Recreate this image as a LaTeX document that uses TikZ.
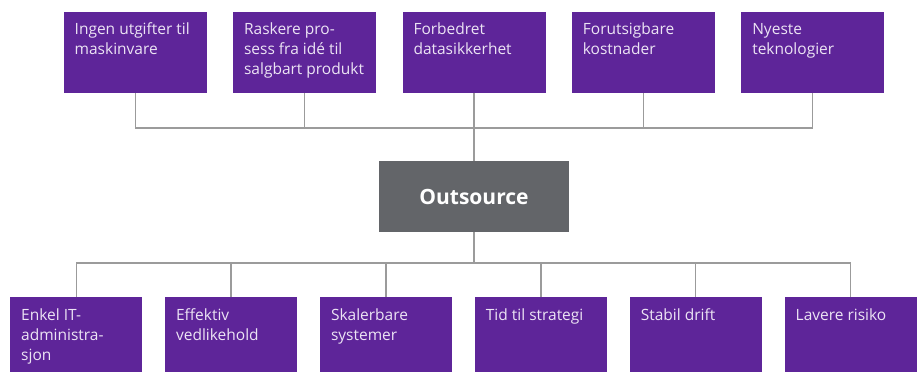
\documentclass[tikz,border=0pt]{standalone}
\usepackage{fontspec}
\setmainfont{Open Sans}
\usetikzlibrary{positioning}

\definecolor{lilla}{RGB}{94,37,153}
\definecolor{skifer}{RGB}{99,101,105}
\definecolor{strek}{RGB}{155,155,155}
\definecolor{lystekst}{RGB}{236,228,244}

\begin{document}
\begin{tikzpicture}[x=1pt, y=-1pt, node distance=26pt and 26pt,
  fordel/.style={fill=lilla, inner sep=0pt, minimum width=143pt, minimum height=81pt},
  gevinst/.style={fill=lilla, inner sep=0pt, minimum width=132pt, minimum height=75pt},
  merk/.style={anchor=north west, inner xsep=11pt, inner ysep=11.5pt, align=left, text=lystekst, font=\fontsize{15.5}{20}\selectfont},
  link/.style={draw=strek, line width=1.3pt}]
\useasboundingbox (0,0) rectangle (920,372);

\node (O) [fill=skifer, minimum width=190pt, minimum height=71pt, text=white, font=\fontsize{21}{25}\selectfont\bfseries] at (474,196.5) {Outsource};

% oppe
\node (T3) [fordel, above=68pt of O] [label={[merk]north west:Forbedret\\datasikkerhet}] {};
\node (T2) [fordel, left=of T3] [label={[merk]north west:Raskere pro-\\sess fra idé til\\salgbart produkt}] {};
\node (T1) [fordel, left=of T2] [label={[merk]north west:Ingen utgifter til\\maskinvare}] {};
\node (T4) [fordel, right=of T3] [label={[merk]north west:Forutsigbare\\kostnader}] {};
\node (T5) [fordel, right=of T4] [label={[merk]north west:Nyeste\\teknologier}] {};

% nede
\node (B1) [gevinst, anchor=north west] at (10,297) [label={[merk]north west:Enkel IT-\\administra-\\sjon}] {};
\node (B2) [gevinst, right=22.5pt of B1] [label={[merk]north west:Effektiv\\vedlikehold}] {};
\node (B3) [gevinst, right=22.5pt of B2] [label={[merk]north west:Skalerbare\\systemer}] {};
\node (B4) [gevinst, right=22.5pt of B3] [label={[merk]north west:Tid til strategi}] {};
\node (B5) [gevinst, right=22.5pt of B4] [label={[merk]north west:Stabil drift}] {};
\node (B6) [gevinst, right=22.5pt of B5] [label={[merk]north west:Lavere risiko}] {};

\coordinate (topp) at (474,128);
\coordinate (bunn) at (474,263);

% linjer oppe
\draw [link] (T1.south) |- (topp) -| (T5.south);
\draw [link] (T2.south) -- (T2.south |- topp);
\draw [link] (T4.south) -- (T4.south |- topp);
\draw [link] (T3.south) -- (O.north);

% linjer nede
\draw [link] (O.south) -- (bunn);
\draw [link] (B1.north) |- (bunn) -| (B6.north);
\draw [link] (B2.north) -- (B2.north |- bunn);
\draw [link] (B3.north) -- (B3.north |- bunn);
\draw [link] (B4.north) -- (B4.north |- bunn);
\draw [link] (B5.north) -- (B5.north |- bunn);
\end{tikzpicture}
\end{document}
